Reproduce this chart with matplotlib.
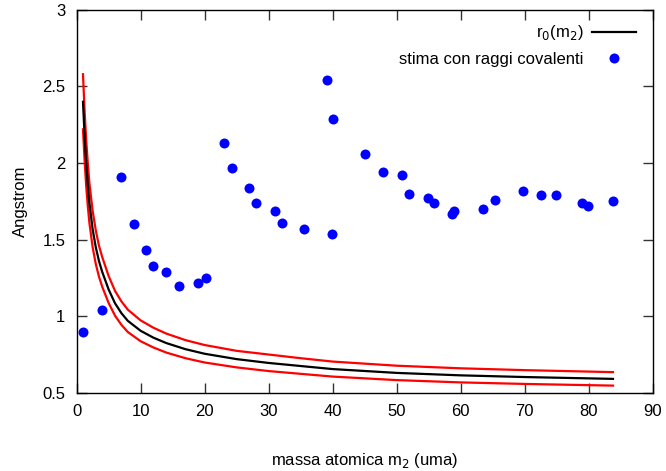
import matplotlib
matplotlib.use('Agg')
import matplotlib.pyplot as plt

plt.rcParams['font.family'] = ['Liberation Sans', 'DejaVu Sans']
plt.rcParams['font.size'] = 12

# stima con raggi covalenti
m2 = [1.0, 4.0, 6.9, 9.0, 10.8, 12.0, 14.0, 16.0, 19.0, 20.2,
      23.0, 24.3, 27.0, 28.1, 31.0, 32.1, 35.5, 39.1, 40.1, 39.9,
      45.0, 47.9, 50.9, 52.0, 54.9, 55.8, 58.7, 58.9, 63.5, 65.4,
      69.7, 72.6, 74.9, 79.0, 79.9, 83.8]
r_cov = [0.90, 1.04, 1.91, 1.60, 1.43, 1.33, 1.29, 1.20, 1.22, 1.25,
         2.13, 1.97, 1.84, 1.74, 1.69, 1.61, 1.57, 2.54, 2.29, 1.54,
         2.06, 1.94, 1.92, 1.80, 1.77, 1.74, 1.67, 1.69, 1.70, 1.76,
         1.82, 1.79, 1.79, 1.74, 1.72, 1.75]

# r0(m2) e banda
m_curve = [1, 1.25, 1.5, 1.75, 2, 2.5, 3, 3.5, 4, 5, 6, 7, 8, 10, 12, 14,
           17, 20, 25, 30, 35, 40, 50, 60, 70, 83.8]
r0 = [2.40, 2.18, 2.00, 1.86, 1.74, 1.57, 1.45, 1.36, 1.29, 1.175, 1.085,
      1.02, 0.97, 0.905, 0.86, 0.825, 0.785, 0.755, 0.72, 0.695, 0.675,
      0.655, 0.630, 0.614, 0.603, 0.591]
r0_up = [2.58, 2.34, 2.15, 2.00, 1.87, 1.69, 1.56, 1.46, 1.387, 1.263,
         1.166, 1.097, 1.043, 0.973, 0.925, 0.887, 0.844, 0.812, 0.774,
         0.750, 0.726, 0.704, 0.677, 0.660, 0.648, 0.635]
r0_low = [2.22, 2.02, 1.85, 1.72, 1.61, 1.452, 1.341, 1.258, 1.193, 1.087,
          1.004, 0.944, 0.897, 0.837, 0.796, 0.763, 0.726, 0.698, 0.666,
          0.642, 0.624, 0.606, 0.583, 0.568, 0.558, 0.547]

fig = plt.figure(figsize=(6.66, 4.71), dpi=100)
ax = fig.add_axes([0.115, 0.166, 0.865, 0.813])

ax.plot(m_curve, r0, color='black', lw=1.6, label='r$_0$(m$_2$)', zorder=3)
ax.plot(m_curve, r0_up, color='red', lw=1.6, zorder=2)
ax.plot(m_curve, r0_low, color='red', lw=1.6, zorder=2)
ax.plot(m2, r_cov, 'o', color='blue', ms=7.2, mec='none',
        label='stima con raggi covalenti', zorder=4)

ax.set_xlim(0, 90)
ax.set_ylim(0.5, 3)
ax.set_xticks(range(0, 91, 10))
ax.set_yticks([0.5, 1, 1.5, 2, 2.5, 3])
ax.set_yticklabels(['0.5', '1', '1.5', '2', '2.5', '3'])
ax.tick_params(direction='in', length=7, width=1, color='#333333',
               top=True, right=True, pad=8, labelsize=12)
for s in ax.spines.values():
    s.set_linewidth(1)

ax.set_xlabel('massa atomica m$_2$ (uma)', labelpad=23)
ax.set_ylabel('Angstrom', labelpad=10)

ax.legend(loc='upper right', bbox_to_anchor=(1.0, 1.008), frameon=False,
          markerfirst=False, handlelength=2.65, handletextpad=0.5,
          borderpad=0.4, borderaxespad=0.6, labelspacing=0.55, numpoints=1)

fig.savefig('out.png', dpi=100)
